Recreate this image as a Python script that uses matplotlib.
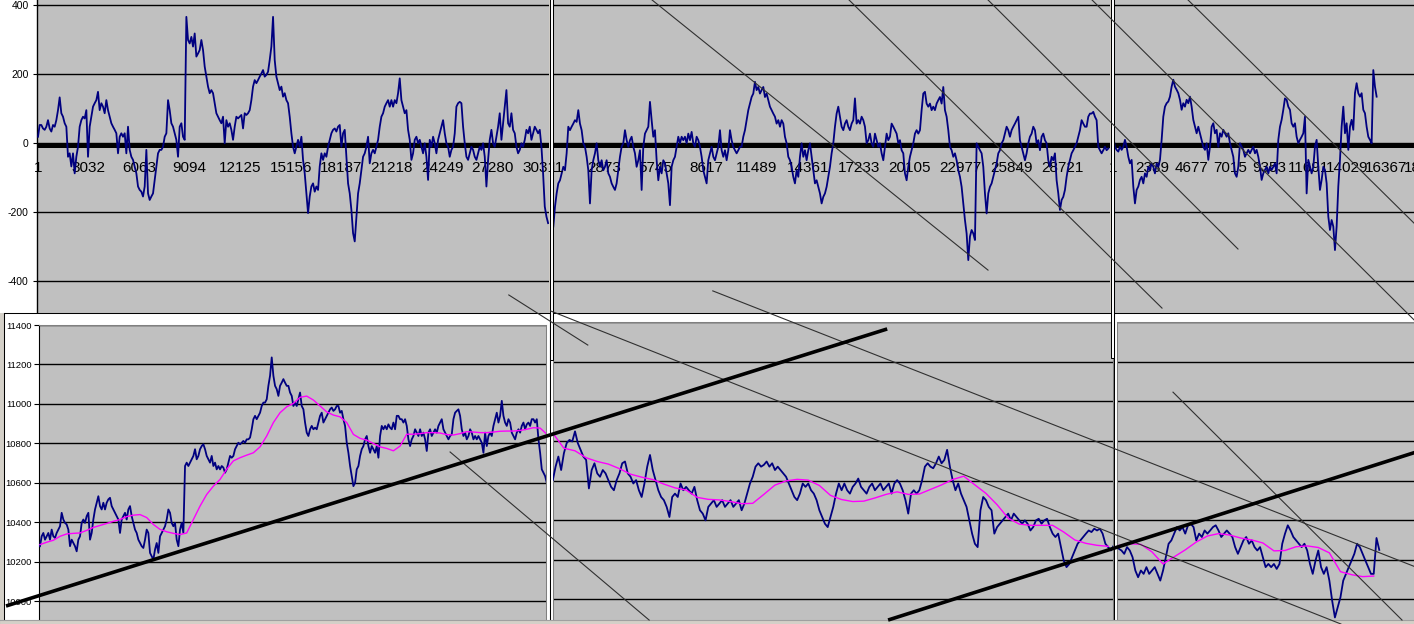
import numpy as np
import matplotlib
matplotlib.use('Agg')
import matplotlib.pyplot as plt
import matplotlib.transforms as mtransforms
from matplotlib.lines import Line2D
from matplotlib.patches import Rectangle

plt.rcParams['font.family'] = ['Liberation Sans', 'DejaVu Sans']
plt.rcParams['axes.unicode_minus'] = False

# ---------------- data ----------------
# upper charts: oscillator (price minus moving average)
top1_step = 100
top1_vals = [19, 53, 53, 43, 39, 48, 67, 43, 34, 53,
             48, 67, 96, 133, 87, 77, 58, 48, -39, -29,
             -67, -29, -87, -39, -10, 48, 67, 77, 72, 96,
             -39, 48, 77, 106, 116, 125, 149, 96, 116, 106,
             87, 125, 96, 77, 58, 48, 39, 29, -29, 19,
             29, 19, 29, -29, 48, -19, -39, -48, -67, -87,
             -125, -135, -140, -154, -125, -19, -145, -164, -154, -145,
             -106, -67, -29, -19, -19, -10, 19, 29, 125, 96,
             58, 48, 29, 10, -39, 48, 58, 19, 10, 366,
             299, 289, 308, 280, 318, 251, 260, 270, 299, 270,
             222, 193, 164, 145, 154, 145, 116, 87, 77, 67,
             58, 77, 0, 67, 48, 58, 39, 10, 48, 77,
             72, 77, 82, 43, 87, 82, 87, 96, 125, 164,
             183, 174, 183, 193, 202, 212, 193, 198, 207, 241,
             280, 366, 241, 193, 174, 154, 164, 135, 145, 125,
             116, 77, 29, -10, -29, -10, 10,
             -10, 19, -48, -87, -145, -202, -154, -125, -116, -140,
             -125, -135, -67, -29, -48, -29, -39, -10, 10, 29,
             39, 43, 34, 48, 53, -10, 29, 39, -39, -116,
             -145, -193, -260, -284, -215, -145, -116, -77, -39, -29,
             -10, 19, -58, -29, -19, -29, -10, 10, 48, 77,
             87, 106, 116, 125, 106, 125, 106, 125, 116, 145,
             188, 125, 106, 87, 96, 39, 10, -48, -29, 10,
             19, 0, 10, -10, -29, 0, -39, -106, 10, -10,
             19, 0, -29, 10, 29, 48, 67, 29, 0, -10,
             -39, -19, -10, 29, 106, 116, 120, 116, 48, 0,
             -39, -48, -29, -10, -19, -39, -48, -29, -10, -19,
             0, -39, -125, -48, 10, 39, 0, -10, 19, 48,
             87, 10, 58, 106, 154, 58, 48, 87, 39, 29,
             -10, -29, -19, 0, -10, 10, 39, 29, 48, 10,
             29, 48, 39, 29, 39, -10, -87, -183, -212, -231]

top2_step = 94
top2_vals = [-241, -184, -145, -116, -107, -87, -68, -78, -29, 48,
             38, 48, 57, 67, 62, 96, 57, 38, 0, -10,
             -39, -78, -174, -78, -49, -29, 0, -49, -68, -49,
             -78, -68, -49, -87, -97, -116, -126, -135, -116, -78,
             -39, -10, 0, 38, 9, -10, 9, 19, -10, -29,
             -68, -49, -20, -135, -10, 28, 38, 48, 120, 67,
             19, 38, -49, -107, -68, -87, -49, -58, -87, -116,
             -179, -68, -49, -39, -10, 19, 0, 19, 9, 19,
             0, 28, 9, 33, 0, -10, 19, 9, -10, -39,
             -78, -97, -116, -49, -29, -10, -39, -49, -29, -10,
             38, -20, -39, -20, -49, -20, 38, 9, -10, -20,
             -29, -20, -10, -10, 19, 38, 67, 96, 115, 134,
             144, 178, 154, 163, 144, 154, 163, 134, 144, 125,
             106, 96, 86, 77, 57, 67, 48, 67, 57, 19,
             0, -39, -49, -68, -97, -116, -78, -97, -39, 0,
             -39, -20, -49, -20, 0, -39, -78, -116, -107, -126,
             -145, -174, -155, -145, -126, -97, -68, -29, 0,
             48, 86, 106, 77, 48, 38, 57, 67, 48, 38,
             57, 67, 130, 57, 67, 57, 77, 67, 48, 0,
             9, 28, 0, -10, 28, 9, -10, 0, -29, -49,
             -10, 28, 9, 19, 57, 48, 38, 28, 0, 9,
             -20, -29, -87, -107, -68, -39, -20, 0, 28, 38,
             28, 38, 96, 144, 149, 115, 106, 115, 96, 106,
             96, 115, 125, 134, 115, 163, 96, 77, 38, -10,
             -20, -39, -29, -49, -78, -97, -126, -174, -222, -261,
             -338, -270, -251, -261, -280, 0, -10, -20, -29, -68,
             -145, -203, -145, -126, -116, -97, -78, -58, -29, -20,
             0, 9, 28, 48, 38, 19, 38, 48, 57, 67,
             77, 9, -10, -29, -49, -29, 0, 19, 28, 48,
             38, 0, 9, -20, 19, 28, 9, 0, -49, -68,
             -39, -49, -29, -107, -145, -193, -164, -155, -135, -97,
             -68, -49, -29, -20, -10, 0, 19, 38, 67, 57,
             48, 48, 77, 86, 86, 91, 77, 67, -10, -20,
             -29, -20, -10, -20, -15]

top3_step = 100
top3_vals = [19, -10, -19, -24, -10, -19, -10, 10, -10, -39,
             -58, -48, -125, -174, -135, -125, -106, -97, -116, -87,
             -97, -68, -77, -58, -68, -87, -58, -68, -48, 10,
             77, 106, 116, 121, 135, 164, 184, 164, 155, 145,
             126, 97, 116, 106, 126, 116, 135, 106, 68, 48,
             29, 48, 29, 10, -10, -19, 0, -48, -10, 48,
             58, 29, 39, -10, 29, 19, 39, 29, 19, 29,
             0, -19, -39, -87, -97, -68, 0, -10, -19, -39,
             -29, -19, -29, -19, -10, -29, -19, -39, -68, -106,
             -87, -77, -68, -87, -68, -77, -68, -58, -87, 10,
             48, 68, 97, 130, 126, 106, 97, 58, 48, 58,
             19, 0, 10, 19, 29, 77, -145, -48, -68, -87,
             -68, -10, 10, -68, -135, -106, -68, -77, -116, -212,
             -251, -222, -241, -309, -241, -125, -48, 48, 106, 29,
             58, -19, 48, 68, 39, 145, 174, 145, 135, 145,
             97, 87, 48, 19, 10, 0, 212, 164, 135]

# lower charts: price and its moving average
bot1_step = 100
bot1_price = [10280, 10330, 10347, 10313, 10330, 10347, 10313, 10364, 10330, 10322,
              10347, 10364, 10381, 10449, 10415, 10398, 10390, 10364, 10280, 10313,
              10296, 10280, 10254, 10313, 10330, 10398, 10415, 10398, 10432, 10449,
              10313, 10347, 10415, 10466, 10500, 10533, 10483, 10466, 10500, 10466,
              10500, 10517, 10525, 10483, 10466, 10449, 10432, 10415, 10347, 10415,
              10432, 10449, 10415, 10466, 10483, 10432, 10398, 10364, 10347, 10313,
              10296, 10280, 10271, 10313, 10364, 10347, 10246, 10229, 10212, 10263,
              10296, 10246, 10330, 10347, 10364, 10381, 10415, 10466, 10449, 10398,
              10381, 10398, 10313, 10280, 10364, 10398, 10347, 10686, 10703, 10686,
              10703, 10720, 10737, 10771, 10720, 10737, 10771, 10787, 10796, 10771,
              10737, 10720, 10703, 10737, 10686, 10703, 10669, 10686, 10669, 10686,
              10678, 10652, 10669, 10703, 10737, 10728, 10737, 10771, 10787, 10804,
              10796, 10804, 10813, 10804, 10821, 10821, 10830, 10872, 10923, 10940,
              10923, 10940, 10956, 10990, 11007, 11007, 11024, 11092, 11143, 11236,
              11143, 11092, 11075, 11041, 11092, 11108, 11126, 11108, 11092, 11092,
              11058, 11041, 10990, 11007, 10990, 11024, 11058, 10990, 10973, 10906,
              10855, 10838, 10872, 10889, 10872, 10880, 10872, 10906, 10940, 10956,
              10906, 10923, 10940, 10956, 10973, 10982, 10965, 10973, 10990, 10990,
              10956, 10965, 10923, 10889, 10804, 10753, 10686, 10635, 10584, 10601,
              10669, 10686, 10737, 10771, 10787, 10821, 10838, 10787, 10753, 10787,
              10771, 10753, 10787, 10728, 10838, 10889, 10872, 10889, 10872, 10897,
              10880, 10872, 10906, 10872, 10940, 10940, 10923, 10923, 10906, 10923,
              10889, 10821, 10787, 10821, 10838, 10872, 10855, 10838, 10872, 10838,
              10855, 10821, 10762, 10855, 10872, 10838, 10855, 10872, 10855, 10889,
              10906, 10923, 10872, 10855, 10838, 10821, 10838, 10847, 10923, 10956,
              10965, 10973, 10940, 10872, 10838, 10855, 10821, 10838, 10872, 10855,
              10821, 10838, 10821, 10838, 10821, 10804, 10753, 10855, 10787, 10838,
              10855, 10838, 10889, 10923, 10956, 10906, 10940, 11016, 10940, 10906,
              10889, 10923, 10906, 10855, 10838, 10821, 10855, 10872, 10855, 10889,
              10906, 10872, 10897, 10906, 10889, 10923, 10923, 10906, 10923, 10821,
              10753, 10669, 10652, 10635, 10601]
bot1_ma_step = 400
bot1_ma = [10288, 10300, 10310, 10330, 10342, 10345, 10347, 10360, 10375, 10385,
           10395, 10406, 10415, 10430, 10437, 10440, 10425, 10390, 10365, 10353,
           10345, 10339, 10347, 10415, 10483, 10542, 10584, 10618, 10670, 10712,
           10728, 10741, 10753, 10783, 10838, 10906, 10956, 10986, 11003, 11034,
           11040, 11020, 10990, 10960, 10944, 10935, 10906, 10846, 10826, 10817,
           10800, 10783, 10775, 10763, 10787, 10847, 10847, 10850, 10855, 10855,
           10853, 10845, 10843, 10850, 10860, 10858, 10855, 10855, 10858, 10862,
           10863, 10863, 10866, 10872, 10880, 10878, 10847]

bot2_step = 155
bot2_price = [10602, 10670, 10721, 10653, 10738, 10789, 10805, 10797, 10848, 10789,
              10755, 10721, 10704, 10560, 10653, 10687, 10636, 10619, 10653, 10636,
              10602, 10568, 10551, 10602, 10636, 10687, 10696, 10636, 10619, 10585,
              10602, 10551, 10517, 10585, 10670, 10729, 10653, 10602, 10551, 10517,
              10501, 10467, 10416, 10517, 10534, 10517, 10585, 10551, 10568, 10551,
              10534, 10568, 10501, 10450, 10433, 10399, 10467, 10484, 10501, 10467,
              10484, 10501, 10467, 10484, 10501, 10467, 10484, 10501, 10450, 10484,
              10534, 10585, 10619, 10670, 10687, 10670, 10679, 10696, 10670, 10687,
              10653, 10670, 10653, 10636, 10619, 10585, 10551, 10517, 10501, 10534,
              10585, 10568, 10585, 10551, 10534, 10501, 10450, 10416, 10382, 10365,
              10416, 10467, 10534, 10585, 10551, 10585, 10551, 10534, 10568, 10585,
              10610, 10568, 10551, 10534, 10568, 10585, 10551, 10568, 10585, 10551,
              10568, 10585, 10534, 10585, 10602, 10585, 10551, 10501, 10433, 10534,
              10551, 10534, 10551, 10602, 10670, 10687, 10670, 10662, 10687, 10721,
              10687, 10704, 10755, 10670, 10602, 10551, 10585, 10534, 10501, 10467,
              10399, 10332, 10281, 10264, 10450, 10517, 10501, 10467, 10450, 10332,
              10365, 10382, 10399, 10416, 10433, 10399, 10433, 10416, 10399, 10382,
              10399, 10382, 10348, 10365, 10399, 10407, 10382, 10399, 10407, 10365,
              10332, 10315, 10332, 10264, 10196, 10163, 10179, 10213, 10247, 10281,
              10298, 10315, 10332, 10348, 10340, 10357, 10348, 10357, 10332, 10281,
              10264, 10247, 10272]
bot2_ma_step = 620
bot2_ma = [10839, 10763, 10750, 10715, 10696, 10683, 10660, 10632, 10617, 10605,
           10582, 10563, 10552, 10515, 10505, 10502, 10494, 10483, 10485, 10530,
           10577, 10598, 10606, 10602, 10575, 10525, 10504, 10494, 10496, 10512,
           10530, 10543, 10530, 10532, 10555, 10578, 10605, 10622, 10578, 10535,
           10478, 10410, 10380, 10374, 10374, 10374, 10340, 10300, 10283, 10273,
           10268]

bot3_step = 168
bot3_price = [10256, 10247, 10230, 10264, 10247, 10213, 10146, 10112, 10146, 10129,
              10163, 10129, 10146, 10163, 10129, 10095, 10146, 10213, 10281, 10298,
              10332, 10365, 10348, 10365, 10332, 10374, 10382, 10365, 10298, 10332,
              10315, 10348, 10332, 10348, 10365, 10374, 10348, 10315, 10332, 10348,
              10332, 10315, 10264, 10230, 10264, 10298, 10315, 10281, 10298, 10264,
              10247, 10264, 10213, 10163, 10179, 10163, 10179, 10154, 10179, 10281,
              10332, 10374, 10348, 10315, 10298, 10281, 10264, 10281, 10247, 10179,
              10129, 10196, 10247, 10163, 10129, 10163, 10095, 9994, 9909, 9960,
              10011, 10095, 10129, 10163, 10196, 10230, 10281, 10264, 10230, 10196,
              10163, 10129, 10129, 10310, 10250]
bot3_ma_step = 672
bot3_ma = [10272, 10281, 10278, 10240, 10179, 10215, 10250, 10290, 10320, 10332,
           10325, 10310, 10300, 10285, 10245, 10247, 10266, 10270, 10262, 10235,
           10140, 10125, 10115, 10118]

# category-axis tick labels
top1_ticks = [1, 3032, 6063, 9094, 12125, 15156, 18187, 21218, 24249, 27280, 30311]
top2_ticks = [1, 2873, 5745, 8617, 11489, 14361, 17233, 20105, 22977, 25849, 28721]
top3_ticks = [1, 2339, 4677, 7015, 9353, 11691, 14029, 16367, 18705, 21043]
osc_yticks = [400, 200, 0, -200, -400]
price_yticks = [11400, 11200, 11000, 10800, 10600, 10400, 10200, 10000]

# hand-drawn trend lines, given in the data units of the chart they start in
thin_lines = [('t2', (5568, 415), (24519, -367)),
              ('t2', (16679, 415), (34333, -477)),
              ('t2', (24519, 415), (38619, -306)),
              ('t3', (-1277, 415), (18043, -511)),
              ('t3', (4483, 415), (18043, -231)),
              ('t1', (28243, -439), (32983, -584)),
              ('b2', (8931, 11557), (48131, 10165)),
              ('b2', (-128, 11456), (43993, 9876)),
              ('b1', (24601, 10757), (36541, 9906)),
              ('b3', (3292, 11046), (17171, 9896))]
thick_lines = [('b1', (-2039, 9977), (50821, 11380)),
               ('b2', (18717, 9896), (48131, 10742))]

# ---------------- figure ----------------
W, H = 1414, 624
fig = plt.figure(figsize=(W / 100, H / 100), dpi=100)
fig.patch.set_facecolor('#D4D0C8')

GRAY = '#C0C0C0'
NAVY = '#000080'
MAG = '#FF00FF'
EDGE = '#808080'


def px_axes(x0, y0, x1, y1, **kw):
    return fig.add_axes([x0 / W, 1 - y1 / H, (x1 - x0) / W, (y1 - y0) / H], **kw)


def chart_area(x0, y0, x1, y1, border=True):
    a = px_axes(x0, y0, x1, y1)
    a.set_facecolor('white')
    a.set_xticks([]); a.set_yticks([])
    for s in a.spines.values():
        s.set_visible(border)
        s.set_color('black'); s.set_linewidth(0.75)
    return a


def osc_panel(x0, x1, xlim, ticks, vals, step, show_y):
    ax = px_axes(x0, 0, x1, 313)
    ax.set_facecolor(GRAY)
    for s in ['top', 'right', 'bottom']:
        ax.spines[s].set_visible(False)
    ax.spines['left'].set_visible(show_y)
    ax.spines['left'].set_linewidth(1)
    ax.spines['bottom'].set_position(('data', 0))
    ax.set_yticks(osc_yticks)
    if show_y:
        ax.tick_params(axis='y', direction='out', length=3, width=0.8, pad=3,
                       labelsize=7.5, colors='black')
    else:
        ax.tick_params(axis='y', length=0, labelleft=False)
    ax.grid(axis='y', color='black', linewidth=1)
    ax.set_xticks(ticks, [str(t) for t in ticks])
    ax.tick_params(axis='x', length=0, pad=12.5, labelsize=11)
    off = mtransforms.ScaledTranslation(0, -2 / 100, fig.dpi_scale_trans)
    ax.add_line(Line2D([0, 1], [0, 0], color='black', linewidth=3.6,
                       transform=ax.get_yaxis_transform() + off, zorder=3))
    xs = 1 + step * np.arange(len(vals))
    ax.plot(xs, vals, color=NAVY, linewidth=1.3, zorder=4)
    ax.set_xlim(*xlim)
    ax.set_ylim(-491.2, 414.8)
    return ax


def price_panel(x0, y0, x1, xlim, ylim, price, pstep, ma, mstep, show_y):
    ax = px_axes(x0, y0, x1, H)
    ax.set_facecolor(GRAY)
    ax.spines['bottom'].set_visible(False)
    for s in ['top', 'right']:
        ax.spines[s].set_color(EDGE)
        ax.spines[s].set_linewidth(0.75)
    if show_y:
        ax.spines['left'].set_color('black')
    else:
        ax.spines['left'].set_color(EDGE)
        ax.spines['left'].set_linewidth(0.75)
    ax.set_xticks([])
    ax.set_yticks(price_yticks)
    if show_y:
        ax.tick_params(axis='y', direction='out', length=3.6, width=0.8, pad=1.5,
                       labelsize=6.8, colors='black')
        for lab in ax.get_yticklabels():
            lab.set_fontfamily(['Liberation Sans Narrow', 'Liberation Sans'])
    else:
        ax.tick_params(axis='y', length=0, labelleft=False)
    ax.grid(axis='y', color='black', linewidth=1)
    xs = 1 + pstep * np.arange(len(price))
    ax.plot(xs, price, color=NAVY, linewidth=1.3, zorder=4)
    xm = 1 + mstep * np.arange(len(ma))
    ax.plot(xm, ma, color=MAG, linewidth=1.0, zorder=5)
    ax.set_xlim(*xlim)
    ax.set_ylim(*ylim)
    return ax


# top row
chart_area(0, 0, 549, 313, border=False)
t3 = osc_panel(1113, 1500, (-17, 23203), top3_ticks, top3_vals, top3_step, False)
t2 = osc_panel(553, 1110, (-16, 31400), top2_ticks, top2_vals, top2_step, False)
t1 = osc_panel(37, 549, (-59, 30655), top1_ticks, top1_vals, top1_step, True)

# bottom row
chart_area(4, 313, 549.5, 640)
b1 = price_panel(39, 325, 546, (-59, 30354), (9886, 11400),
                 bot1_price, bot1_step, bot1_ma, bot1_ma_step, True)
chart_area(549.5, 313, 1113.5, 640)
b2 = price_panel(552.5, 322, 1112.5, (-16, 31243), (9876, 11400),
                 bot2_price, bot2_step, bot2_ma, bot2_ma_step, False)
chart_area(1113.5, 313, 1440, 640)
b3 = price_panel(1117, 322, 1500, (-102, 23110), (9876, 11400),
                 bot3_price, bot3_step, bot3_ma, bot3_ma_step, False)

# overlay in screen pixels: window splitters and bottom strip
ov = fig.add_axes([0, 0, 1, 1])
ov.set_xlim(0, W); ov.set_ylim(H, 0)
ov.axis('off')
ov.patch.set_alpha(0)
for (x, h) in [(549.5, 360), (1110.5, 358)]:
    ov.add_patch(Rectangle((x, -2), 3, h + 2, facecolor='white', edgecolor='black', linewidth=0.75))
ov.add_patch(Rectangle((-1, 620), W + 2, 6, facecolor='#D4D0C8', edgecolor='#A0A0A0', linewidth=0.8))

panels = {'t1': t1, 't2': t2, 't3': t3, 'b1': b1, 'b2': b2, 'b3': b3}
for key, p0, p1 in thin_lines:
    fig.add_artist(Line2D([p0[0], p1[0]], [p0[1], p1[1]], transform=panels[key].transData,
                          color='#303030', linewidth=0.8, zorder=10))
for key, p0, p1 in thick_lines:
    fig.add_artist(Line2D([p0[0], p1[0]], [p0[1], p1[1]], transform=panels[key].transData,
                          color='black', linewidth=2.6, zorder=11, solid_capstyle='butt'))

fig.savefig('out.png', dpi=100, facecolor=fig.get_facecolor())
